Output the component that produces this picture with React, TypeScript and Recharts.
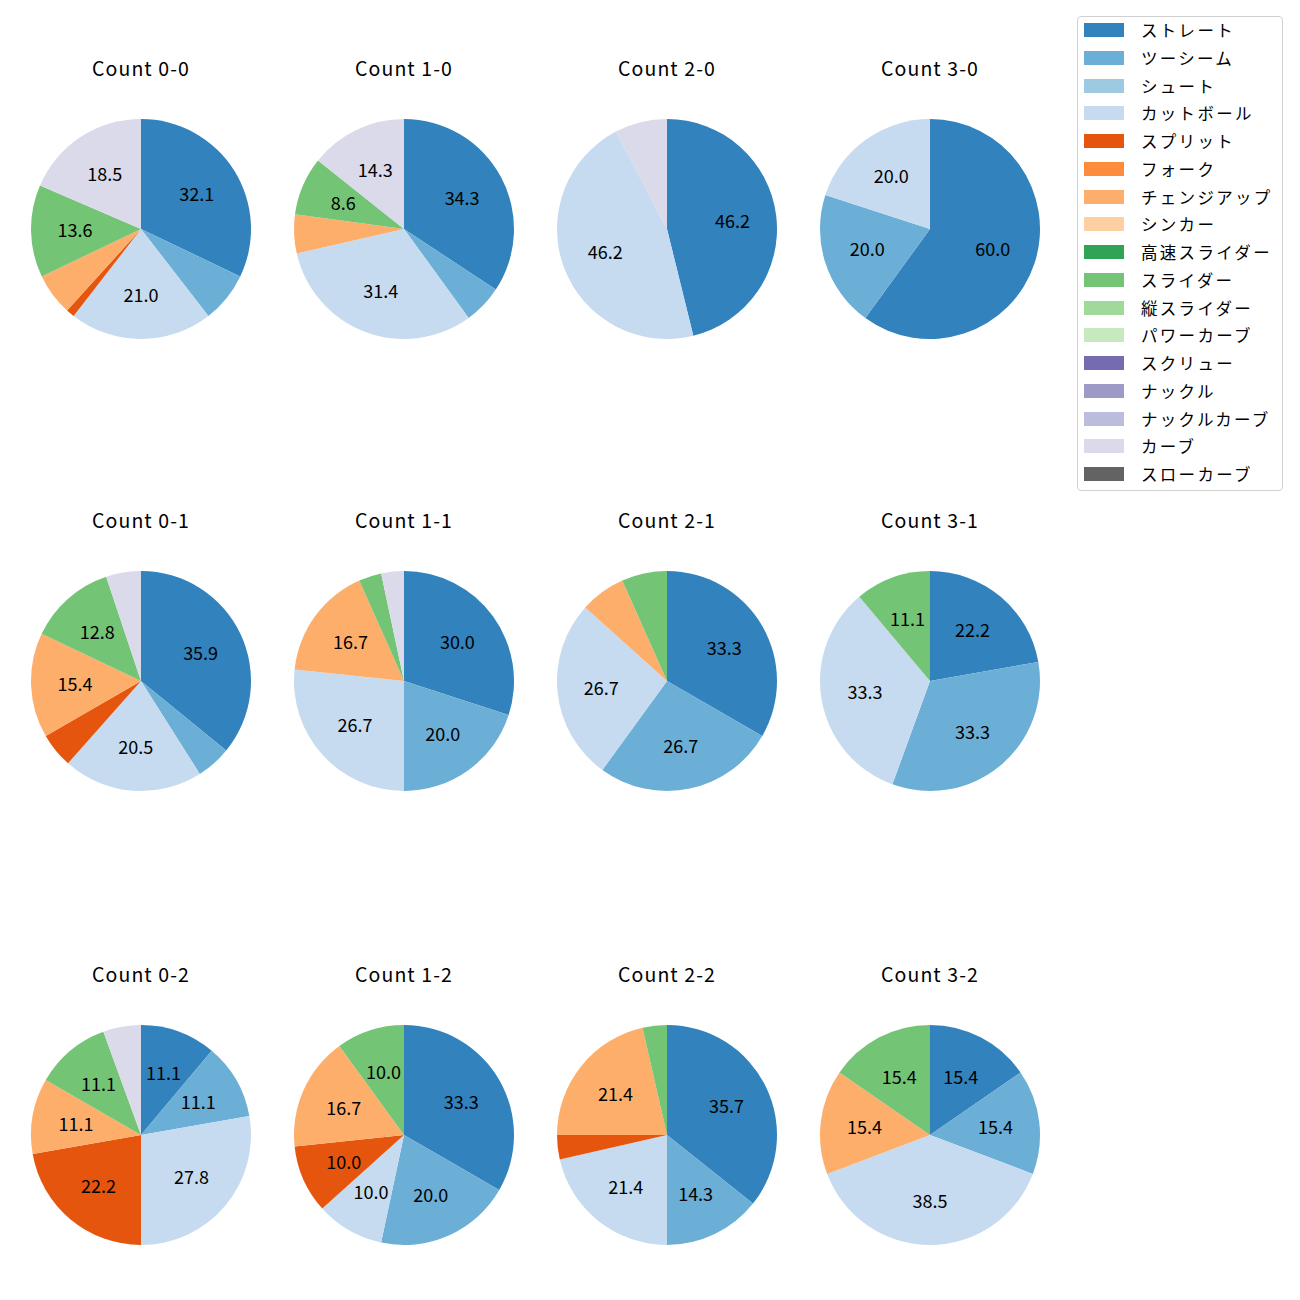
import React from 'react';
import { PieChart, Pie, Cell } from 'recharts';

const PITCHES = ['ストレート', 'ツーシーム', 'シュート', 'カットボール', 'スプリット', 'フォーク', 'チェンジアップ', 'シンカー', '高速スライダー', 'スライダー', '縦スライダー', 'パワーカーブ', 'スクリュー', 'ナックル', 'ナックルカーブ', 'カーブ', 'スローカーブ'];
const COLORS = ['#3182bd', '#6baed6', '#9ecae1', '#c6dbef', '#e6550d', '#fd8d3c', '#fdae6b', '#fdd0a2', '#31a354', '#74c476', '#a1d99b', '#c7e9c0', '#756bb1', '#9e9ac8', '#bcbddc', '#dadaeb', '#636363'];

// pitch counts per ball-strike count, in PITCHES order
const count00 = [26, 6, 0, 17, 1, 0, 5, 0, 0, 11, 0, 0, 0, 0, 0, 15, 0];
const count10 = [12, 2, 0, 11, 0, 0, 2, 0, 0, 3, 0, 0, 0, 0, 0, 5, 0];
const count20 = [6, 0, 0, 6, 0, 0, 0, 0, 0, 0, 0, 0, 0, 0, 0, 1, 0];
const count30 = [3, 1, 0, 1, 0, 0, 0, 0, 0, 0, 0, 0, 0, 0, 0, 0, 0];
const count01 = [14, 2, 0, 8, 2, 0, 6, 0, 0, 5, 0, 0, 0, 0, 0, 2, 0];
const count11 = [9, 6, 0, 8, 0, 0, 5, 0, 0, 1, 0, 0, 0, 0, 0, 1, 0];
const count21 = [5, 4, 0, 4, 0, 0, 1, 0, 0, 1, 0, 0, 0, 0, 0, 0, 0];
const count31 = [2, 3, 0, 3, 0, 0, 0, 0, 0, 1, 0, 0, 0, 0, 0, 0, 0];
const count02 = [2, 2, 0, 5, 4, 0, 2, 0, 0, 2, 0, 0, 0, 0, 0, 1, 0];
const count12 = [10, 6, 0, 3, 3, 0, 5, 0, 0, 3, 0, 0, 0, 0, 0, 0, 0];
const count22 = [10, 4, 0, 6, 1, 0, 6, 0, 0, 1, 0, 0, 0, 0, 0, 0, 0];
const count32 = [2, 2, 0, 5, 0, 0, 2, 0, 0, 2, 0, 0, 0, 0, 0, 0, 0];

const TITLES = ['Count 0-0', 'Count 1-0', 'Count 2-0', 'Count 3-0', 'Count 0-1', 'Count 1-1', 'Count 2-1', 'Count 3-1', 'Count 0-2', 'Count 1-2', 'Count 2-2', 'Count 3-2'];
const SERIES = [count00, count10, count20, count30, count01, count11, count21, count31, count02, count12, count22, count32];

const COL_X = [141, 404, 667, 930];
const ROW_Y = [229, 681, 1135];
const R = 110;
const BOX = 240;
const FONT = '"Noto Sans CJK JP", "Noto Sans", sans-serif';

const RAD = Math.PI / 180;

const renderLabel = (props: any) => {
  const { cx, cy, midAngle, outerRadius, percent } = props;
  const p = percent * 100;
  if (p < 8) return null;
  const r = outerRadius * 0.6;
  const x = cx + r * Math.cos(-midAngle * RAD);
  const y = cy + r * Math.sin(-midAngle * RAD) - 1;
  return (
    <text x={x} y={y} textAnchor="middle" dominantBaseline="central" fill="#000" fontSize={18} fontFamily={FONT}>
      {p.toFixed(1)}
    </text>
  );
};

function Cellular({ idx }: { idx: number }) {
  const col = idx % 4;
  const row = Math.floor(idx / 4);
  const cx = COL_X[col];
  const cy = ROW_Y[row];
  const data = SERIES[idx]
    .map((v, i) => ({ name: PITCHES[i], value: v, color: COLORS[i] }))
    .filter((d) => d.value > 0);
  return (
    <>
      <div
        style={{
          position: 'absolute',
          left: cx - 100,
          top: cy - 173,
          width: 200,
          textAlign: 'center',
          fontSize: 19.5,
          letterSpacing: 1.1,
          fontFamily: FONT,
          color: '#000',
          lineHeight: '24px',
        }}
      >
        {TITLES[idx]}
      </div>
      <div style={{ position: 'absolute', left: cx - BOX / 2, top: cy - BOX / 2 }}>
        <PieChart width={BOX} height={BOX} margin={{ top: 0, right: 0, bottom: 0, left: 0 }}>
          <Pie
            data={data}
            dataKey="value"
            nameKey="name"
            cx={BOX / 2}
            cy={BOX / 2}
            outerRadius={R}
            startAngle={90}
            endAngle={-270}
            stroke="none"
            label={renderLabel}
            labelLine={false}
            isAnimationActive={false}
          >
            {data.map((d, i) => (
              <Cell key={i} fill={d.color} />
            ))}
          </Pie>
        </PieChart>
      </div>
    </>
  );
}

function LegendBox() {
  return (
    <div
      style={{
        position: 'absolute',
        left: 1077,
        top: 16,
        width: 206,
        height: 475,
        border: '1px solid #d0d0d0',
        borderRadius: 4,
        boxSizing: 'border-box',
        background: '#fff',
      }}
    >
      {PITCHES.map((p, i) => (
        <div key={p} style={{ position: 'absolute', left: 6, top: 6 + i * 27.75, height: 14, display: 'flex', alignItems: 'center' }}>
          <div style={{ width: 40, height: 14, background: COLORS[i] }} />
          <div
            style={{
              marginLeft: 17,
              fontSize: 16.5,
              letterSpacing: 2.3,
              fontFamily: FONT,
              color: '#000',
              whiteSpace: 'nowrap',
              lineHeight: '14px',
            }}
          >
            {p}
          </div>
        </div>
      ))}
    </div>
  );
}

export default function App() {
  return (
    <div style={{ position: 'absolute', left: 0, top: 0, width: 1300, height: 1300, background: '#fff' }}>
      {TITLES.map((_, i) => (
        <Cellular key={i} idx={i} />
      ))}
      <LegendBox />
    </div>
  );
}
